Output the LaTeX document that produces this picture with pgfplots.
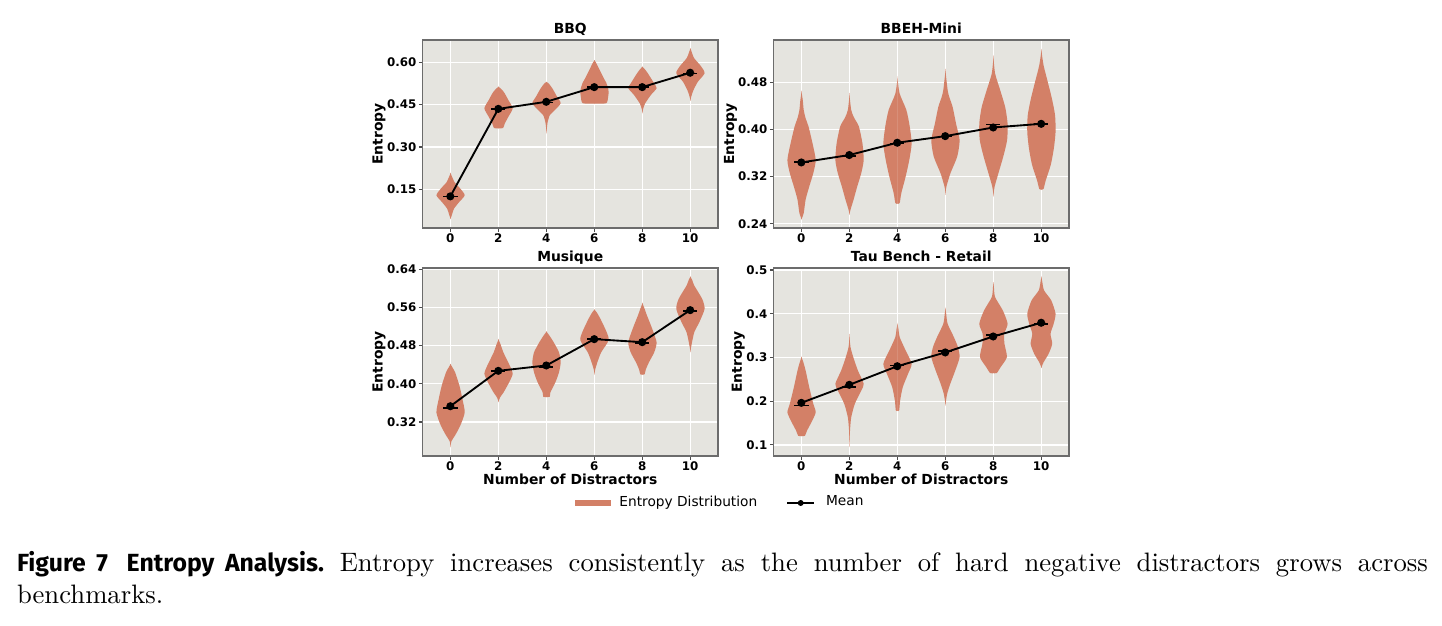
\documentclass[border=0pt]{standalone}
\usepackage{fontspec}
\usepackage{pgfplots}
\pgfplotsset{compat=1.18}
\usepackage{pgfplotstable}
\newfontfamily\dv{DejaVu Sans}
\newfontfamily\capsans{Fira Sans}
\definecolor{violin}{RGB}{211,128,103}
\definecolor{bgc}{RGB}{229,228,223}

% ---------- BBQ ----------
\pgfplotstableread{
y w
0.044 0
0.060 0.07
0.081 0.15
0.105 0.37
0.129 0.60
0.152 0.42
0.165 0.28
0.176 0.17
0.195 0.07
0.209 0
}\bbqA
\pgfplotstableread{
y w
0.366 0
0.367 0.20
0.383 0.27
0.407 0.42
0.437 0.60
0.466 0.42
0.482 0.32
0.496 0.22
0.507 0.10
0.514 0
}\bbqB
\pgfplotstableread{
y w
0.348 0
0.370 0.03
0.389 0.06
0.413 0.15
0.431 0.36
0.455 0.60
0.478 0.45
0.508 0.25
0.525 0.10
0.531 0
}\bbqC
\pgfplotstableread{
y w
0.454 0
0.455 0.50
0.478 0.58
0.495 0.60
0.508 0.58
0.528 0.50
0.543 0.40
0.579 0.19
0.598 0.08
0.608 0
}\bbqD
\pgfplotstableread{
y w
0.419 0
0.435 0.04
0.454 0.12
0.484 0.36
0.508 0.60
0.525 0.50
0.555 0.28
0.570 0.16
0.580 0.06
0.585 0
}\bbqE
\pgfplotstableread{
y w
0.463 0
0.480 0.05
0.502 0.14
0.531 0.32
0.561 0.60
0.585 0.46
0.614 0.17
0.630 0.09
0.642 0.04
0.650 0
}\bbqF
% ---------- BBEH-Mini ----------
\pgfplotstableread{
y w
0.247 0
0.258 0.10
0.281 0.18
0.303 0.33
0.326 0.50
0.348 0.60
0.376 0.47
0.405 0.30
0.419 0.18
0.433 0.10
0.450 0.06
0.466 0
}\beA
\pgfplotstableread{
y w
0.255 0
0.265 0.06
0.281 0.18
0.303 0.33
0.326 0.50
0.348 0.60
0.376 0.55
0.405 0.40
0.420 0.20
0.433 0.08
0.462 0
}\beB
\pgfplotstableread{
y w
0.274 0
0.275 0.10
0.292 0.17
0.320 0.35
0.348 0.50
0.376 0.60
0.405 0.52
0.433 0.38
0.461 0.10
0.490 0
}\beC
\pgfplotstableread{
y w
0.289 0
0.303 0.05
0.326 0.22
0.354 0.50
0.382 0.60
0.410 0.45
0.438 0.31
0.455 0.17
0.467 0.10
0.503 0
}\beD
\pgfplotstableread{
y w
0.286 0
0.303 0.06
0.326 0.22
0.354 0.42
0.382 0.58
0.410 0.60
0.438 0.50
0.467 0.29
0.495 0.08
0.526 0
}\beE
\pgfplotstableread{
y w
0.298 0
0.299 0.10
0.312 0.18
0.340 0.40
0.368 0.53
0.396 0.60
0.424 0.58
0.452 0.45
0.480 0.28
0.509 0.10
0.537 0
}\beF
% ---------- Musique ----------
\pgfplotstableread{
y w
0.267 0
0.280 0.05
0.292 0.20
0.313 0.42
0.340 0.60
0.369 0.50
0.396 0.38
0.424 0.20
0.435 0.08
0.442 0
}\muA
\pgfplotstableread{
y w
0.3615 0
0.372 0.08
0.382 0.22
0.403 0.45
0.421 0.60
0.438 0.48
0.466 0.21
0.482 0.10
0.494 0
}\muB
\pgfplotstableread{
y w
0.372 0
0.373 0.15
0.382 0.17
0.403 0.38
0.424 0.53
0.445 0.60
0.466 0.53
0.487 0.31
0.502 0.12
0.510 0
}\muC
\pgfplotstableread{
y w
0.419 0
0.430 0.04
0.445 0.13
0.466 0.29
0.491 0.60
0.508 0.52
0.536 0.26
0.550 0.10
0.556 0
}\muD
\pgfplotstableread{
y w
0.419 0
0.420 0.10
0.430 0.15
0.445 0.28
0.466 0.50
0.487 0.60
0.515 0.42
0.543 0.20
0.560 0.08
0.570 0
}\muE
\pgfplotstableread{
y w
0.466 0
0.480 0.05
0.508 0.17
0.529 0.38
0.557 0.60
0.578 0.50
0.606 0.17
0.618 0.08
0.625 0
}\muF
% ---------- Tau Bench - Retail ----------
\pgfplotstableread{
y w
0.120 0
0.121 0.15
0.133 0.24
0.156 0.46
0.175 0.60
0.194 0.50
0.232 0.33
0.270 0.18
0.290 0.08
0.302 0
}\taA
\pgfplotstableread{
y w
0.095 0
0.133 0.03
0.163 0.08
0.194 0.23
0.2245 0.50
0.240 0.60
0.270 0.36
0.300 0.17
0.324 0.05
0.354 0
}\taB
\pgfplotstableread{
y w
0.178 0
0.179 0.08
0.2016 0.12
0.232 0.23
0.2627 0.45
0.2856 0.60
0.316 0.35
0.3466 0.10
0.365 0.05
0.379 0
}\taC
\pgfplotstableread{
y w
0.190 0
0.2168 0.08
0.2397 0.21
0.2703 0.42
0.3008 0.60
0.3237 0.53
0.3466 0.36
0.377 0.10
0.400 0.04
0.4137 0
}\taD
\pgfplotstableread{
y w
0.2642 0
0.2645 0.15
0.278 0.31
0.3008 0.57
0.3313 0.47
0.354 0.46
0.377 0.60
0.4076 0.40
0.438 0.08
0.460 0.03
0.4725 0
}\taE
\pgfplotstableread{
y w
0.2756 0
0.289 0.10
0.3084 0.31
0.3313 0.46
0.354 0.39
0.377 0.52
0.400 0.60
0.4305 0.42
0.4534 0.12
0.475 0.04
0.4855 0
}\taF

\pgfplotsset{
  every axis title shift=0pt,
  vfill/.style={fill=violin, draw=none, smooth, tension=0.4, forget plot},
  meanline/.style={black, line width=0.7pt, mark=*, mark size=1.15pt, forget plot},
  medbar/.style={draw=none, mark=none, forget plot,
    error bars/.cd, x dir=both, x fixed=0.3, error mark=none,
    error bar style={draw=black, line width=0.6pt}},
  panel/.style={
    width=110.81pt, height=70.5pt, scale only axis, anchor=south west,
    xmin=-1.16, xmax=11.16, xtick={0,2,4,6,8,10},
    axis background/.style={fill=bgc},
    grid=major, major grid style={white, line width=0.45pt},
    axis line style={gray!85!black, line width=0.4pt},
    tick style={gray!60!black, line width=0.4pt},
    tick align=outside, major tick length=1.4pt, tick pos=left,
    /pgf/number format/assume math mode=true,
    ticklabel style={font=\dv\bfseries\fontsize{4.45}{5}\selectfont},
    xticklabel style={yshift=2.8pt},
    yticklabel style={xshift=2.6pt, /pgf/number format/.cd, fixed, fixed zerofill, precision=2},
    label style={font=\dv\bfseries\fontsize{5.2}{6}\selectfont},
    title style={font=\dv\bfseries\fontsize{5.2}{6}\selectfont, at={(0.5,1)}, anchor=base, yshift=2.6pt},
    ylabel=Entropy,
    ylabel style={at={(axis description cs:-0.147,0.5)}, anchor=center},
    xlabel style={at={(axis description cs:0.5,0)}, anchor=base, yshift=-10.6pt},
  },
}
\newcommand{\violin}[2]{%
  \addplot[vfill] table[x expr={#1+\thisrow{w}}, y=y] {#2};
  \addplot[vfill] table[x expr={#1-\thisrow{w}+0.02}, y=y] {#2};
}

\begin{document}
\begin{tikzpicture}
\path[use as bounding box] (0,0) rectangle (540.75pt,234.375pt);

% BBQ
\begin{axis}[panel, at={(158.44pt,148.88pt)}, title={BBQ},
  ymin=0.013, ymax=0.679, ytick={0.15,0.30,0.45,0.60}]
\violin{0}{\bbqA}\violin{2}{\bbqB}\violin{4}{\bbqC}
\violin{6}{\bbqD}\violin{8}{\bbqE}\violin{10}{\bbqF}
\addplot[medbar] coordinates {(0,0.124) (2,0.435) (4,0.458) (6,0.512) (8,0.512) (10,0.560)};
\addplot[meanline] coordinates {(0,0.125) (2,0.435) (4,0.460) (6,0.512) (8,0.512) (10,0.563)};
\end{axis}

% BBEH-Mini
\begin{axis}[panel, at={(290.06pt,148.88pt)}, title={BBEH-Mini},
  ymin=0.2327, ymax=0.552, ytick={0.24,0.32,0.40,0.48},
  ylabel style={at={(axis description cs:-0.145,0.5)}}]
\violin{0}{\beA}\violin{2}{\beB}\violin{4}{\beC}
\violin{6}{\beD}\violin{8}{\beE}\violin{10}{\beF}
\addplot[medbar] coordinates {(0,0.345) (2,0.355) (4,0.376) (6,0.388) (8,0.4085) (10,0.409)};
\addplot[meanline] coordinates {(0,0.344) (2,0.3566) (4,0.3775) (6,0.3887) (8,0.4034) (10,0.4096)};
\end{axis}

% Musique
\begin{axis}[panel, at={(158.44pt,63.38pt)}, title={Musique},
  ymin=0.2487, ymax=0.6428, ytick={0.32,0.40,0.48,0.56,0.64},
  xlabel={Number of Distractors},
  legend style={at={(axis description cs:1.013,-0.25)}, anchor=center,
    draw=none, fill=none, legend columns=2,
    font=\dv\fontsize{5.15}{6}\selectfont,
    /tikz/every even column/.append style={column sep=9pt}}]
\violin{0}{\muA}\violin{2}{\muB}\violin{4}{\muC}
\violin{6}{\muD}\violin{8}{\muE}\violin{10}{\muF}
\addplot[medbar] coordinates {(0,0.349) (2,0.427) (4,0.4356) (6,0.4936) (8,0.486) (10,0.553)};
\addplot[meanline] coordinates {(0,0.353) (2,0.4272) (4,0.4384) (6,0.4936) (8,0.4873) (10,0.5544)};
\addlegendimage{legend image code/.code={\path[draw=none,fill=none] (0pt,0pt) -- (14.5pt,0pt); \fill[violin] (0pt,-0.95pt) rectangle (13pt,0.95pt);}}
\addlegendentry{Entropy Distribution}
\addlegendimage{legend image code/.code={\path[draw=none,fill=none] (0pt,0pt) -- (12.5pt,0pt); \draw[black, line width=0.6pt] (0pt,0pt) -- (10pt,0pt); \fill[black] (5pt,0pt) circle (0.9pt);}}
\addlegendentry{Mean}
\end{axis}

% Tau Bench - Retail
\begin{axis}[panel, at={(290.06pt,63.38pt)}, title={Tau Bench - Retail},
  ymin=0.0748, ymax=0.5046, ytick={0.1,0.2,0.3,0.4,0.5},
  yticklabel style={/pgf/number format/.cd, fixed, fixed zerofill, precision=1},
  ylabel style={at={(axis description cs:-0.119,0.5)}},
  xlabel={Number of Distractors}]
\violin{0}{\taA}\violin{2}{\taB}\violin{4}{\taC}
\violin{6}{\taD}\violin{8}{\taE}\violin{10}{\taF}
\addplot[medbar] coordinates {(0,0.190) (2,0.232) (4,0.2817) (6,0.3145) (8,0.352) (10,0.377)};
\addplot[meanline] coordinates {(0,0.1963) (2,0.2375) (4,0.280) (6,0.3115) (8,0.348) (10,0.3794)};
\end{axis}

% caption
\node[anchor=base west, inner sep=0pt, align=left,
  font=\fontsize{10}{12}\selectfont] at (6.2pt,8.1pt)
 {\makebox[529.1pt][s]{{\capsans\bfseries\fontsize{9.3}{12}\selectfont Figure 7\hspace{7pt}Entropy Analysis.}\ Entropy increases consistently as the number of hard negative distractors grows across}\\
  benchmarks.};
\end{tikzpicture}
\end{document}
